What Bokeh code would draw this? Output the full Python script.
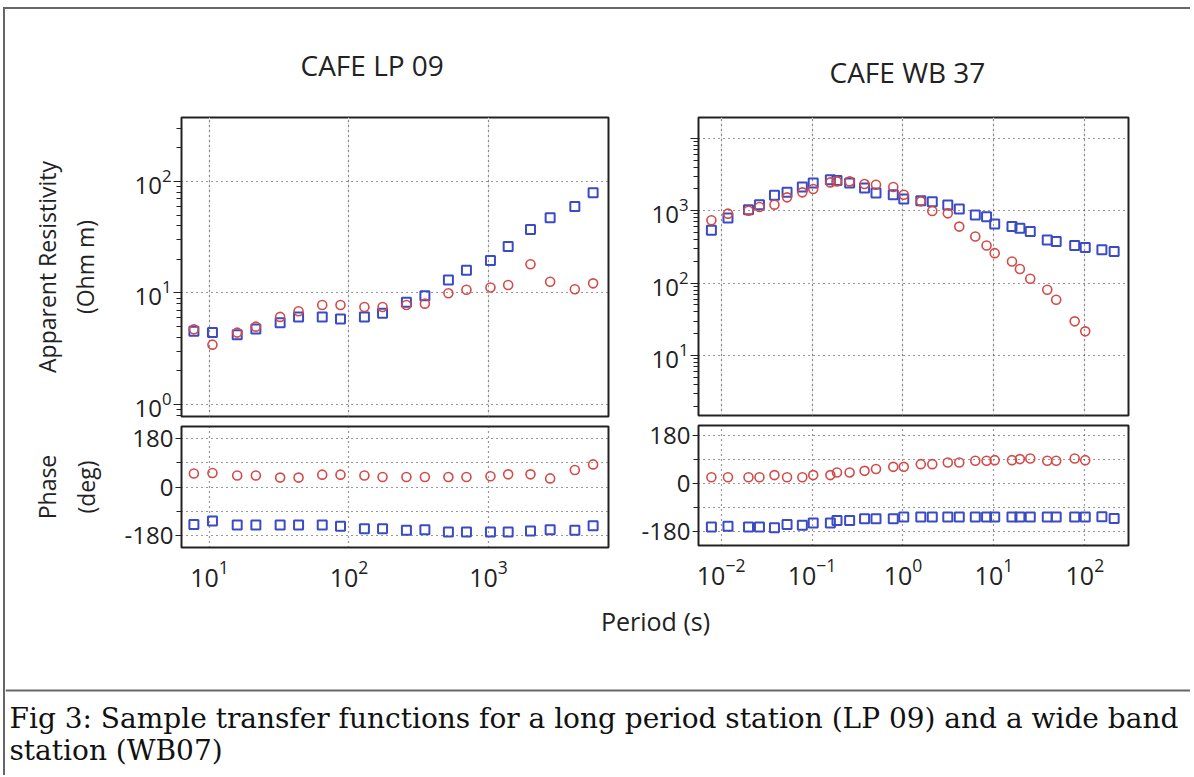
from bokeh.plotting import figure
from bokeh.layouts import row, column
from bokeh.models import Range1d, FixedTicker, LogTicker, Grid, Title, Label, Span
from bokeh.embed import file_html
from bokeh.resources import INLINE

# ---------------- data ----------------
lp_period = [7.73, 10.5, 15.8, 21.5, 32.1, 43.5, 64.3, 86.9, 129, 174, 258, 350,
             516, 695, 1033, 1384, 2000, 2767, 4159, 5623]
lp_rho_blue = [4.53, 4.41, 4.23, 4.75, 5.42, 6.10, 6.10, 5.85, 6.10, 6.58, 8.24, 9.46,
               13.1, 16.0, 19.6, 26.1, 37.2, 47.4, 59.8, 79.4]
lp_rho_red = [4.72, 3.44, 4.41, 4.99, 6.10, 6.85, 7.80, 7.80, 7.48, 7.48, 7.80, 8.02,
              9.93, 10.7, 11.2, 11.8, 18.1, 12.6, 10.8, 12.2]
lp_phase_blue = [-139, -126, -141, -141, -141, -141, -141, -146, -155, -155, -161, -159,
                 -167, -167, -167, -167, -164, -159, -161, -144]
lp_phase_red = [50, 52, 43, 43, 35, 35, 46, 46, 43, 37, 37, 37, 37, 37, 40, 47, 47, 32, 63, 84]

wb_period = [0.00782, 0.0119, 0.0200, 0.0264, 0.0386, 0.0531, 0.0782, 0.103, 0.159, 0.188,
             0.259, 0.378, 0.505, 0.782, 1.02, 1.57, 2.10, 3.11, 4.16, 6.24, 8.30, 10.2,
             15.8, 19.3, 25.1, 38.6, 48.4, 77.3, 101, 154, 210]
wb_rho_blue = [536, 793, 1032, 1211, 1627, 1790, 2119, 2405, 2673, 2617, 2405, 2051, 1751,
               1660, 1448, 1374, 1330, 1197, 1054, 871, 826, 656, 603, 571, 514, 395, 374,
               330, 310, 288, 273]
wb_rho_red = [736, 909, 1000, 1123, 1211, 1526, 1790, 1988, 2455, 2535, 2535, 2328, 2280,
              2119, 1660, 1345, 989, 918, 603, 439, 330, 259, 199, 157, 115, 81, 59, 29.7, 21.6]
wb_phase_blue = [-163, -160, -163, -163, -165, -153, -156, -148, -148, -138, -138, -132, -132,
                 -132, -125, -125, -125, -125, -125, -125, -125, -125, -125, -125, -125, -125,
                 -125, -125, -125, -124, -131]
wb_phase_red = [24, 24, 24, 24, 32, 24, 24, 32, 32, 42, 42, 48, 55, 63, 63, 73, 73, 79, 79,
                86, 86, 88, 88, 92, 94, 86, 86, 94, 88]

phase_ticks = [-180, 0, 180]
phase_minor = [-90, 90]
phase_grid = [-180, -90, 0, 90, 180]

titles = ["CAFE LP 09", "CAFE WB 37"]
caption = ["Fig 3: Sample transfer functions for a long period station (LP 09) and a wide band",
           "station (WB07)"]

BLUE = "#3a4bc4"
RED = "#d44a48"
INK = "#222222"
SANS = "Open Sans"
GRID_DASH = "1 4"


def base_fig(width, height, mbl, mbr, mbt, mbb, xr, yr, ylog, show_x):
    p = figure(width=width, height=height, x_axis_type="log",
               y_axis_type="log" if ylog else "linear",
               x_range=xr, y_range=yr, output_backend="svg", toolbar_location=None,
               min_border_left=mbl, min_border_right=mbr, min_border_top=mbt,
               min_border_bottom=mbb, x_axis_location="below" if show_x else None,
               background_fill_color="white", border_fill_color=None)
    p.outline_line_color = INK
    p.outline_line_width = 2
    if show_x:
        ax = p.xaxis[0]
        ax.major_tick_out = 0
        ax.minor_tick_out = 0
        ax.major_tick_in = 0
        ax.minor_tick_in = 0
        ax.axis_line_color = None
        ax.major_label_text_font = SANS
        ax.major_label_text_font_size = "25px"
        ax.major_label_text_color = INK
        ax.major_label_standoff = 12
        p.xgrid.grid_line_color = "#333333"
        p.xgrid.grid_line_dash = GRID_DASH
        p.xgrid.grid_line_width = 1.2
    else:
        p.add_layout(Grid(dimension=0, ticker=LogTicker(), grid_line_color="#333333",
                          grid_line_dash=GRID_DASH, grid_line_width=1.2))
    ay = p.yaxis[0]
    ay.axis_line_color = None
    ay.major_tick_line_color = INK
    ay.minor_tick_line_color = INK
    ay.major_label_text_font = SANS
    ay.major_label_text_font_size = "24px"
    ay.major_label_text_color = INK
    ay.axis_label_text_font = SANS
    ay.axis_label_text_font_size = "23px"
    ay.axis_label_text_font_style = "normal"
    ay.axis_label_text_color = INK
    ay.axis_label_text_line_height = 1.2
    p.ygrid.grid_line_color = "#333333"
    p.ygrid.grid_line_dash = GRID_DASH
    p.ygrid.grid_line_width = 1.2
    return p


def add_points(p, xb, yb, xr, yr):
    p.scatter(xb, yb, marker="square", size=9, line_color=BLUE, line_width=2,
              fill_color=None)
    p.scatter(xr, yr, marker="circle", size=9, line_color=RED, line_width=1.6,
              fill_color=None)


def style_phase_axis(p, label_standoff):
    ay = p.yaxis[0]
    ay.ticker = FixedTicker(ticks=phase_ticks, minor_ticks=phase_minor)
    ay.major_label_overrides = {-180: "-180", 0: "0", 180: "180"}
    ay.major_tick_out = 6
    ay.minor_tick_out = 5
    ay.major_tick_in = 0
    ay.minor_tick_in = 0
    ay.major_label_standoff = 2
    ay.axis_label_standoff = label_standoff
    p.ygrid.ticker = FixedTicker(ticks=phase_grid)


def style_rho_axis(p, label_standoff):
    ay = p.yaxis[0]
    ay.major_tick_out = 8
    ay.minor_tick_out = 5
    ay.major_tick_in = 0
    ay.minor_tick_in = 0
    ay.major_label_standoff = 2
    ay.axis_label_standoff = label_standoff


# ---------------- left station ----------------
lx = Range1d(6.3, 7250)
pa = base_fig(610, 419, 176, 7, 108, 12, lx, Range1d(0.78, 375), True, False)
style_rho_axis(pa, 30)
pa.yaxis[0].axis_label = "Apparent Resistivity\n(Ohm m)"
add_points(pa, lp_period, lp_rho_blue, lp_period, lp_rho_red)
pa.title = Title(text=titles[0], align="left", offset=119, standoff=67,
                 text_font=SANS, text_font_size="28px", text_font_style="normal",
                 text_color=INK)

pb = base_fig(610, 180, 176, 7, 6, 53, lx, Range1d(-225, 225), False, True)
pb.styles = {"margin-top": "-8px"}
style_phase_axis(pb, 20)
pb.yaxis[0].axis_label = "Phase\n(deg)"
add_points(pb, lp_period, lp_phase_blue, lp_period, lp_phase_red)

# ---------------- right station ----------------
rx = Range1d(0.00564, 302)
pc = base_fig(575, 408, 83, 62, 108, 2, rx, Range1d(1.49, 19300), True, False)
style_rho_axis(pc, 10)
pc.yaxis[0].major_label_overrides = {10000: ""}
add_points(pc, wb_period, wb_rho_blue, wb_period[:len(wb_rho_red)], wb_rho_red)
pc.title = Title(text=titles[1], align="left", offset=131, standoff=53,
                 text_font=SANS, text_font_size="28px", text_font_style="normal",
                 text_color=INK)

pd = base_fig(575, 183, 83, 62, 8, 55, rx, Range1d(-232, 218), False, True)
style_phase_axis(pd, 10)
add_points(pd, wb_period, wb_phase_blue, wb_period[:len(wb_phase_red)], wb_phase_red)

# ---------------- bottom: shared x label and caption ----------------
pe = figure(width=1185, height=175, x_range=Range1d(0, 1185), y_range=Range1d(0, 175),
            output_backend="svg", toolbar_location=None, min_border=0,
            x_axis_location=None, y_axis_location=None, outline_line_color=None)
pe.xgrid.visible = False
pe.ygrid.visible = False
pe.add_layout(Label(x=650, y=155, text="Period (s)", text_align="center",
                    text_baseline="middle", text_font=SANS, text_font_size="25px",
                    text_color=INK))
pe.add_layout(Span(location=85, dimension="width", line_color="#666666", line_width=2))
pe.add_layout(Label(x=4, y=57, text=caption[0], text_align="left", text_baseline="middle",
                    text_font="DejaVu Serif", text_font_size="28px", text_color="#111111"))
pe.add_layout(Label(x=4, y=25, text=caption[1], text_align="left", text_baseline="middle",
                    text_font="DejaVu Serif", text_font_size="28px", text_color="#111111"))

layout = column(row(column(pa, pb), column(pc, pd)), pe,
                styles={"border-top": "2px solid #666666", "border-left": "2px solid #666666",
                        "margin-top": "7px", "margin-left": "3px"})

open("out.html", "w").write(file_html(layout, INLINE))
